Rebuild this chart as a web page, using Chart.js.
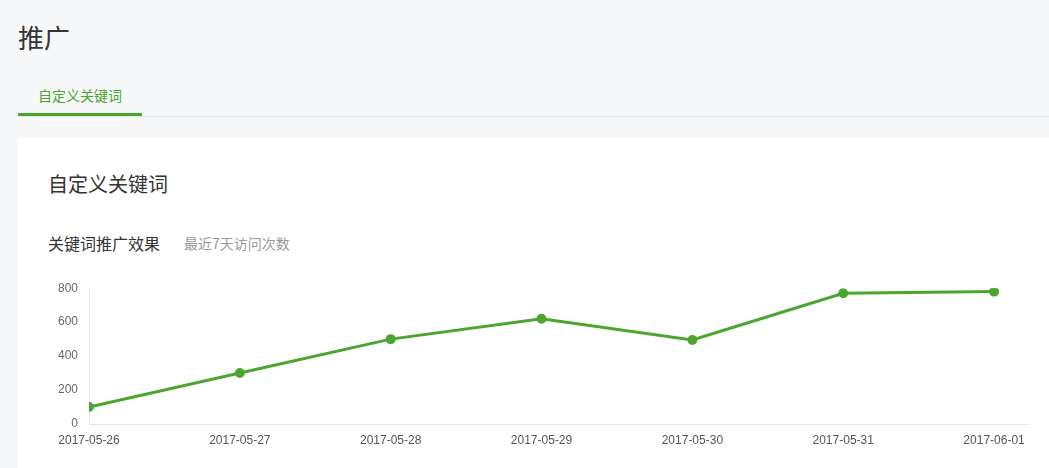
<!DOCTYPE html>
<html>
<head>
<meta charset="utf-8">
<script src="https://cdn.jsdelivr.net/npm/chart.js@4/dist/chart.umd.min.js"></script>
<style>
  html, body { margin: 0; padding: 0; }
  body {
    width: 1049px; height: 468px; overflow: hidden; position: relative;
    background: #f6f7f9;
    font-family: "Noto Sans CJK SC", "Liberation Sans", sans-serif;
  }
  .page-title { position: absolute; left: 18px; top: 19px; font-size: 26px; color: #333; line-height: 36px; }
  .tab { position: absolute; left: 38px; top: 86px; font-size: 14px; color: #48a52d; line-height: 18px; }
  .tab-line { position: absolute; left: 18px; top: 116px; right: 0; height: 1px; background: #e2e3e5; }
  .tab-active { position: absolute; left: 18px; top: 113px; width: 124px; height: 3px; background: #48a52d; }
  .card { position: absolute; left: 18px; top: 138px; right: 0; bottom: -20px; background: #fff; }
  .card-title { position: absolute; left: 48px; top: 170px; font-size: 20px; color: #333; line-height: 28px; }
  .sub { position: absolute; left: 48px; top: 232px; font-size: 16px; color: #333; line-height: 22px; }
  .sub-note { position: absolute; left: 184px; top: 234px; font-size: 14px; color: #999; line-height: 18px; }
  .chart-box { position: absolute; left: 30px; top: 270px; width: 1019px; height: 195px; }
</style>
</head>
<body>
<div class="page-title">推广</div>
<div class="tab">自定义关键词</div>
<div class="tab-line"></div>
<div class="tab-active"></div>
<div class="card"></div>
<div class="card-title">自定义关键词</div>
<div class="sub">关键词推广效果</div>
<div class="sub-note">最近7天访问次数</div>
<div class="chart-box"><canvas id="visits"></canvas></div>

<script>
const DATES = ['2017-05-26', '2017-05-27', '2017-05-28', '2017-05-29', '2017-05-30', '2017-05-31', '2017-06-01'];
const VISITS = [100, 300, 500, 620, 495, 770, 780];
const Y_TICKS = [0, 200, 400, 600, 800];

const GREEN = '#4ba530';

const ctx = document.getElementById('visits').getContext('2d');

new Chart(ctx, {
  type: 'line',
  data: {
    datasets: [
      {
        label: '访问次数',
        data: VISITS.map((v, i) => ({ x: i, y: v })),
        borderColor: GREEN,
        backgroundColor: GREEN,
        borderWidth: 3,
        tension: 0,
        fill: false,
        pointRadius: 3.5,
        pointHoverRadius: 5
      }
    ]
  },
  options: {
    responsive: true,
    maintainAspectRatio: false,
    animation: false,
    layout: {
      padding: { top: 6, right: 21, left: 0, bottom: 0 }
    },
    plugins: {
      legend: { display: false },
      tooltip: { enabled: true }
    },
    scales: {
      x: {
        type: 'linear',
        min: 0,
        max: 6.225,
        afterBuildTicks: (scale) => {
          scale.ticks = DATES.map((d, i) => ({ value: i }));
        },
        afterFit: (scale) => { scale.height = 41; },
        grid: { display: false, drawTicks: false },
        border: { display: true, color: '#e6e6e6', width: 1 },
        ticks: {
          padding: 9,
          maxRotation: 0,
          autoSkip: false,
          color: '#555',
          font: { family: 'Liberation Sans, Arial, sans-serif', size: 12 },
          callback: (v) => DATES[v] ?? ''
        }
      },
      y: {
        min: 0,
        max: 800,
        afterBuildTicks: (scale) => {
          scale.ticks = Y_TICKS.map(v => ({ value: v }));
        },
        afterFit: (scale) => { scale.width = 59; },
        grid: { display: false, drawTicks: false },
        border: { display: true, color: '#e6e6e6', width: 1 },
        ticks: {
          padding: 11,
          color: '#666',
          font: { family: 'Liberation Sans, Arial, sans-serif', size: 12 }
        }
      }
    }
  }
});
</script>
</body>
</html>
